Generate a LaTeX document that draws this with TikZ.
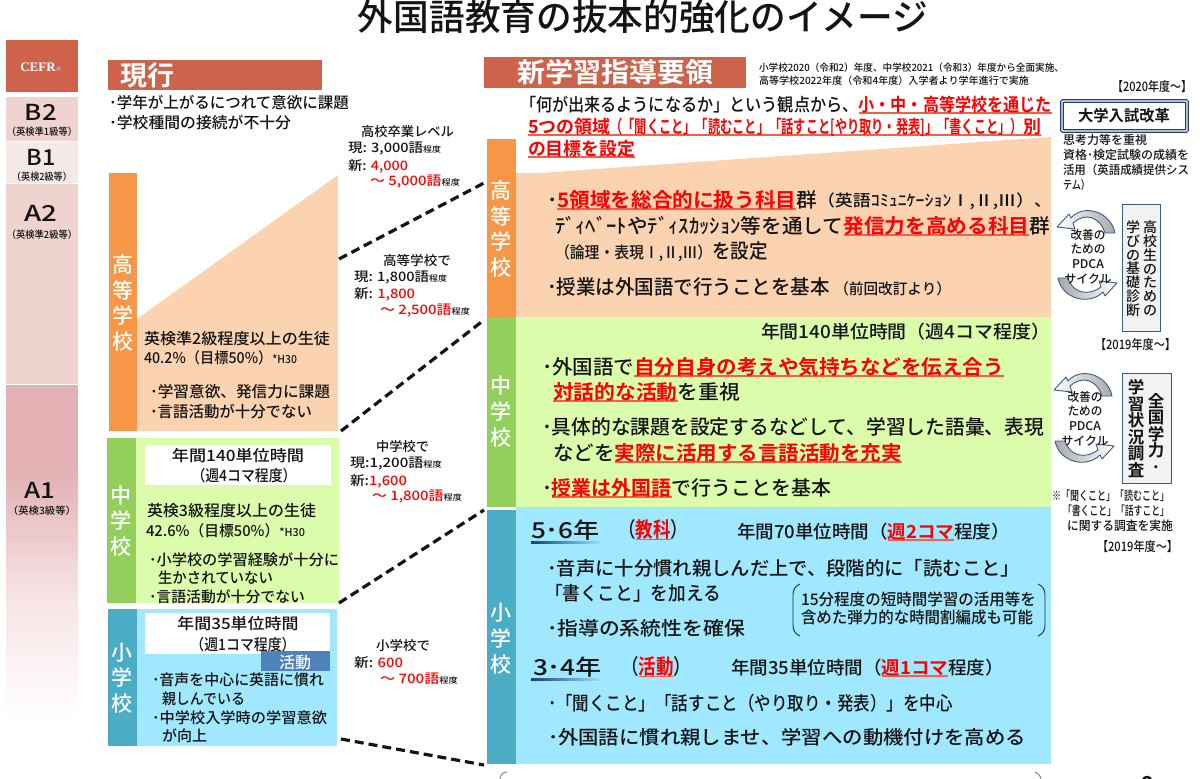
\documentclass[tikz,border=0pt]{standalone}
\usepackage{fontspec}
\usepackage{graphicx}
\setmainfont{Noto Sans CJK JP}[UprightFont={* Medium},BoldFont={* Bold}]
\newfontfamily\serfam{Liberation Serif}
\definecolor{hdr}{HTML}{CE624B}
\definecolor{cefrA}{HTML}{EED3CE}
\definecolor{cefrB}{HTML}{F7E8E8}
\definecolor{cefrC}{HTML}{E3B1B3}
\definecolor{cefrD}{HTML}{F7E4E6}
\definecolor{oraD}{HTML}{F79646}
\definecolor{oraL}{HTML}{FCD3B1}
\definecolor{grnD}{HTML}{92CF5B}
\definecolor{grnL}{HTML}{DBFDAB}
\definecolor{bluD}{HTML}{4BACC6}
\definecolor{bluL}{HTML}{9FE8FF}
\definecolor{katsu}{HTML}{4F81BD}
\definecolor{ink}{HTML}{141414}
\definecolor{ulred}{HTML}{F0604A}
\definecolor{navy}{HTML}{1F3D7A}
\definecolor{edge}{HTML}{385D8A}
\definecolor{pane}{HTML}{F2F2F2}
\definecolor{arcg}{HTML}{A8A8A8}
\newcommand\T[6]{\node[txt] (#1) at (#2,#3) {\resizebox{#4pt}{\height}{\fontsize{#5}{#5}\selectfont #6}};}
\newcommand\TC[6]{\node[txt,anchor=center] (#1) at (#2,#3) {\resizebox{#4pt}{\height}{\fontsize{#5}{#5}\selectfont #6}};}
\newcommand\V[6]{\node[vert,font=\fontsize{#4}{#5}\selectfont] (#1) at (#2,#3) {#6};}
\newcommand\Bx[6]{\path[#6] (#2,#3) rectangle (#4,#5) coordinate (#1);}
\newcommand\ru[1]{\setbox0\hbox{{\bfseries\color{red}#1}}\leavevmode\rlap{{\color{ulred}\rule[-2.6pt]{\wd0}{1.6pt}}}\box0 }
\newcommand\sm[1]{{\fontsize{8}{8}\selectfont #1}}
\newcommand\Arc[2]{%
  \begin{scope}[shift={(#1,#2)}]
    \path[left color=white,right color=arcg,draw=edge,line width=0.9pt,line join=round]
      (58,24) .. controls (54,3) and (27,-6) .. (14,9) -- (12,5) -- (0,18) -- (18,20) -- (16,14)
      .. controls (27,4) and (42,6) .. (48,24) -- cycle;
    \path[left color=arcg,right color=white,draw=edge,line width=0.9pt,line join=round]
      (1,69) .. controls (5,90) and (32,97) .. (46,83) -- (48,87) -- (60,74) -- (42,72) -- (44,78)
      .. controls (32,87) and (16,85) .. (11,69) -- cycle;
  \end{scope}}
\tikzset{
  txt/.style={anchor=west,inner sep=0pt,outer sep=0pt,text=ink},
  vert/.style={anchor=center,inner sep=0pt,outer sep=0pt,align=center,text=ink},
  dashcon/.style={line width=3.2pt,draw=ink,dash pattern=on 9pt off 5pt}
}
\begin{document}
\begin{tikzpicture}[x=1pt,y=-1pt]
\useasboundingbox (0,0) rectangle (1200,779);
\fill[white] (0,0) rectangle (1200,779);
% title
\TC{title}{643}{17}{570}{36}{外国語教育の抜本的強化のイメージ}
% CEFR column
\Bx{c0}{6}{40}{78}{92}{fill=hdr}
\node[txt,anchor=center,text=white] (cefr) at (41,67) {\serfam\bfseries\fontsize{13}{13}\selectfont CEFR{\rmfamily\fontsize{6}{6}\selectfont ※}};
\Bx{c1}{6}{97}{78}{141}{fill=cefrA}
\Bx{c2}{6}{142}{78}{183}{fill=cefrB}
\Bx{c3}{6}{184}{78}{384}{fill=cefrA}
\Bx{c4}{6}{385}{78}{471}{fill=cefrC}
\shade[top color=cefrC,bottom color=cefrD] (6,470) rectangle (78,600);
\shade[top color=cefrD,bottom color=white] (6,599) rectangle (78,720);
\TC{b2}{41}{112}{32}{22}{B2}
\TC{b2s}{42}{132}{70}{10}{（英検準1級等）}
\TC{b1}{41}{157}{29}{22}{B1}
\TC{b1s}{42}{177}{60}{10}{（英検2級等）}
\TC{a2}{41}{213}{33}{22}{A2}
\TC{a2s}{42}{235}{70}{10}{（英検準2級等）}
\TC{a1}{40}{490}{31}{22}{A1}
\TC{a1s}{42}{511}{68}{10}{（英検3級等）}
% current header
\Bx{h1}{108}{60}{322}{90}{fill=hdr}
\node[txt,text=white] (h1t) at (120,75) {\bfseries\fontsize{27}{27}\selectfont 現行};
\T{l1}{109}{103}{240}{15.5}{･学年が上がるにつれて意欲に課題}
\T{l2}{109}{123}{182}{15.5}{･学校種間の接続が不十分}
% left high school
\Bx{lh}{109}{173}{137}{431}{fill=oraD}
\path[fill=oraL] (137,319) -- (338,175) -- (338,431) -- (137,431) -- cycle;
\V{lhv}{123}{303}{21}{25.5}{\color{white}高\\\color{white}等\\\color{white}学\\\color{white}校}
\coordinate (lhtop) at (339,259);
\coordinate (lhbot) at (341,431);
\T{l3}{144}{339}{186}{15.5}{英検準2級程度以上の生徒}
\T{l4}{144}{358}{153}{15}{40.2\%（目標50\%）{\fontsize{11}{11}\selectfont *H30}}
\T{l5}{150}{392}{180}{15.5}{･学習意欲、発信力に課題}
\T{l6}{150}{412}{162}{15.5}{･言語活動が十分でない}
% left middle school
\Bx{lm}{107}{438}{136}{603}{fill=grnD}
\Bx{lml}{136}{438}{339}{603}{fill=grnL}
\Bx{lmw}{145}{445}{331}{485}{fill=white}
\V{lmv}{121}{521}{21}{25.5}{\color{white}中\\\color{white}学\\\color{white}校}
\coordinate (lmbot) at (339,603);
\TC{m1}{238}{456}{132}{15.5}{年間140単位時間}
\TC{m2}{244}{476}{105}{15.5}{（週4コマ程度）}
\T{m3}{147}{511}{169}{15.5}{英検3級程度以上の生徒}
\T{m4}{146}{531}{159}{15}{42.6\%（目標50\%）{\fontsize{11}{11}\selectfont *H30}}
\T{m5}{149}{560}{190}{15}{･小学校の学習経験が十分に}
\T{m6}{158}{578}{115}{15}{生かされていない}
\T{m7}{149}{597}{156}{15}{･言語活動が十分でない}
% left elementary
\Bx{le}{108}{609}{137}{746}{fill=bluD}
\Bx{lel}{137}{609}{337}{746}{fill=bluL}
\Bx{lew}{145}{613}{330}{654}{fill=white}
\V{lev}{122}{678}{21}{25.5}{\color{white}小\\\color{white}学\\\color{white}校}
\coordinate (lebot) at (341,739);
\TC{e1}{238}{624}{121}{15.5}{年間35単位時間}
\TC{e2}{243}{645}{105}{15.5}{（週1コマ程度）}
\Bx{ek}{261}{651}{330}{671}{fill=katsu}
\node[txt,anchor=center,text=white] (ekt) at (295,662) {\fontsize{16}{16}\selectfont 活動};
\T{e3}{152}{680}{172}{15}{･音声を中心に英語に慣れ}
\T{e4}{162}{699}{83}{15}{親しんでいる}
\T{e5}{152}{718}{175}{15}{･中学校入学時の学習意欲}
\T{e6}{162}{736}{45}{15}{が向上}
% word counts
\T{w1}{361}{132}{93}{13}{高校卒業レベル}
\T{w2}{348}{149}{93}{13}{現: 3,000語\sm{程度}}
\T{w3}{348}{166}{60}{13}{新: {\color{red}4,000}}
\T{w4}{370}{182}{90}{13}{{\color{red}～ 5,000語}\sm{程度}}
\T{w5}{383}{261}{68}{13}{高等学校で}
\T{w6}{354}{278}{93}{13}{現: 1,800語\sm{程度}}
\T{w7}{354}{294}{61}{13}{新: {\color{red}1,800}}
\T{w8}{380}{311}{90}{13}{{\color{red}～ 2,500語}\sm{程度}}
\T{w9}{376}{447}{53}{13}{中学校で}
\T{w10}{350}{464}{92}{13}{現:1,200語\sm{程度}}
\T{w11}{350}{481}{57}{13}{新:{\color{red}1,600}}
\T{w12}{372}{497}{90}{13}{{\color{red}～ 1,800語}\sm{程度}}
\T{w13}{376}{646}{54}{13}{小学校で}
\T{w14}{354}{663}{49}{13}{新: {\color{red}600}}
\T{w15}{380}{679}{78}{13}{{\color{red}～ 700語}\sm{程度}}
% right header
\Bx{h2}{484}{57}{746}{88}{fill=hdr}
\node[txt,text=white] (h2t) at (517,72) {\resizebox{196pt}{\height}{\bfseries\fontsize{27}{27}\selectfont 新学習指導要領}};
\T{n1}{759}{68}{305}{10}{小学校2020（令和2）年度、中学校2021（令和3）年度から全面実施、}
\T{n2}{759}{81}{270}{10}{高等学校2022年度（令和4年度）入学者より学年進行で実施}
\T{i1}{520}{105}{532}{18}{「何が出来るようになるか」という観点から、\ru{小・中・高等学校を通じた}}
\T{i2}{528}{127}{513}{18}{\ru{5つの領域\resizebox{414pt}{\height}{（「聞くこと」「読むこと」「話すこと[やり取り・発表]」「書くこと」）}別}}
\T{i3}{528}{149}{107}{18}{\ru{の目標を設定}}
% right high school
\Bx{rh}{487}{139}{516}{317}{fill=oraD}
\path[fill=oraL] (516,173) -- (540,173) -- (1051,137) -- (1051,317) -- (516,317) -- cycle;
\coordinate (rhdash) at (484,183);
\V{rhv}{501}{229}{21}{25.7}{\color{white}高\\\color{white}等\\\color{white}学\\\color{white}校}
\T{r1}{547}{200}{270}{20}{･\ru{5領域を総合的に扱う科目}群}
\T{r1b}{817}{201}{235}{16}{（英語ｺﾐｭﾆｹｰｼｮﾝⅠ,Ⅱ,Ⅲ）、}
\T{r2}{555}{226}{495}{20}{ﾃﾞｨﾍﾞｰﾄやﾃﾞｨｽｶｯｼｮﾝ等を通して\ru{発信力を高める科目}群}
\T{r3}{555}{252}{213}{20}{{\fontsize{16}{16}\selectfont （論理・表現Ⅰ,Ⅱ,Ⅲ）}を設定}
\T{r4}{547}{287}{404}{20}{･授業は外国語で行うことを基本 {\fontsize{15}{15}\selectfont （前回改訂より）}}
% right middle school
\Bx{rm}{487}{317}{516}{507}{fill=grnD}
\Bx{rml}{516}{317}{1051}{507}{fill=grnL}
\coordinate (rmdash) at (484,320);
\V{rmv}{501}{412}{21}{26}{\color{white}中\\\color{white}学\\\color{white}校}
\T{s1}{761}{332}{289}{18}{年間140単位時間（週4コマ程度）}
\T{s2}{542}{367}{462}{20}{･外国語で\ru{自分自身の考えや気持ちなどを伝え合う}}
\T{s3}{553}{392}{187}{20}{\ru{対話的な活動}を重視}
\T{s4}{542}{427}{502}{20}{･具体的な課題を設定するなどして、学習した語彙、表現}
\T{s5}{553}{453}{349}{20}{などを\ru{実際に活用する言語活動を充実}}
\T{s6}{542}{488}{289}{20}{･\ru{授業は外国語}で行うことを基本}
% right elementary
\Bx{re}{487}{510}{516}{764}{fill=bluD}
\Bx{rel}{516}{507}{1051}{764}{fill=bluL}
\coordinate (redash) at (484,510);
\coordinate (re2dash) at (484,765);
\V{rev}{501}{639}{21}{26}{\color{white}小\\\color{white}学\\\color{white}校}
\T{t1}{531}{530}{69}{22}{5･6年}
\shade[left color=navy,right color=bluL] (531,541) rectangle (603,543);
\T{t2}{618}{530}{70}{21}{（\ru{教科}）}
\T{t3}{737}{532}{273}{18}{年間70単位時間（\ru{週2コマ}程度）}
\T{t4}{547}{568}{473}{19}{･音声に十分慣れ親しんだ上で、段階的に「読むこと」}
\T{t5}{545}{593}{176}{19}{「書くこと」を加える}
\T{t6}{547}{628}{198}{19}{･指導の系統性を確保}
\draw[edge!50!black,line width=0.9pt] (800,584) .. controls (795,586) and (793,590) .. (793,595) -- (793,625) .. controls (793,630) and (795,634) .. (800,636);
\draw[edge!50!black,line width=0.9pt] (1038,584) .. controls (1043,586) and (1045,590) .. (1045,595) -- (1045,625) .. controls (1045,630) and (1043,634) .. (1038,636);
\T{t7}{801}{599}{235}{16}{15分程度の短時間学習の活用等を}
\T{t8}{801}{617}{232}{16}{含めた弾力的な時間割編成も可能}
\T{t9}{533}{667}{69}{22}{3･4年}
\shade[left color=navy,right color=bluL] (531,678) rectangle (603,680);
\T{t10}{621}{667}{70}{21}{（\ru{活動}）}
\T{t11}{731}{668}{273}{18}{年間35単位時間（\ru{週1コマ}程度）}
\T{t12}{548}{703}{405}{19}{･「聞くこと」「話すこと（やり取り・発表）」を中心}
\T{t13}{548}{737}{478}{19}{･外国語に慣れ親しませ、学習への動機付けを高める}
% dashed connectors
\draw[dashcon] (lhtop) -- (rhdash);
\draw[dashcon] (lhbot) -- (rmdash);
\draw[dashcon] (lmbot) -- (redash);
\draw[dashcon] (lebot) -- (re2dash);
% cut fragments at the lower edge
\draw[gray,line width=0.9pt] (500,779) .. controls (500,775) and (503,772) .. (507,772);
\draw[gray,line width=0.9pt] (1035,772) .. controls (1038,773) and (1040,775) .. (1041,779);
\draw[ink,line width=2.4pt] (1143,780) .. controls (1144,776) and (1150,776) .. (1151,780);
% side column
\T{y1}{1112}{87}{80}{13}{【2020年度～】}
\node[draw=navy,line width=1.1pt,double=white,double distance=1.4pt,rounded corners=1pt,fill=white,minimum width=125pt,minimum height=30pt,inner sep=0pt] (ent) at (1124.5,116) {};
\TC{entt}{1124}{116}{92}{15.5}{\bfseries 大学入試改革}
\T{x1}{1063}{140}{84}{12}{思考力等を重視}
\T{x2}{1063}{155}{126}{12}{資格･検定試験の成績を}
\T{x3}{1063}{170}{126}{12}{活用（英語成績提供シス}
\T{x4}{1063}{185}{27}{12}{テム）}
\Arc{1057}{209}
\TC{p1}{1088}{235}{35}{12}{改善の}
\TC{p2}{1088}{249}{35}{12}{ための}
\TC{p3}{1088}{264}{32}{12}{PDCA}
\TC{p4}{1088}{279}{47}{12}{サイクル}
\Bx{bx1}{1122}{204}{1160}{331}{fill=pane,draw=edge,line width=1pt}
\V{v1}{1150}{268.5}{14}{13.8}{高\\校\\生\\の\\た\\め\\の}
\V{v2}{1133}{268.5}{14}{13.8}{学\\び\\の\\基\\礎\\診\\断}
\T{y2}{1095}{345}{81}{13}{【2019年度～】}
\Arc{1054}{372}
\TC{q1}{1085}{397}{35}{12}{改善の}
\TC{q2}{1085}{411}{35}{12}{ための}
\TC{q3}{1085}{426}{32}{12}{PDCA}
\TC{q4}{1085}{441}{47}{12}{サイクル}
\Bx{bx2}{1122}{373}{1171}{483}{fill=pane,draw=edge,line width=1pt}
\V{v3}{1156}{433}{16.5}{16.5}{\bfseries 全\\\bfseries 国\\\bfseries 学\\\bfseries 力\\\bfseries ･}
\V{v4}{1136}{428.5}{16.5}{16.6}{\bfseries 学\\\bfseries 習\\\bfseries 状\\\bfseries 況\\\bfseries 調\\\bfseries 査}
\T{z1}{1052}{496}{117}{12.5}{※「聞くこと」「読むこと」}
\T{z2}{1063}{511}{106}{12.5}{「書くこと」「話すこと」}
\T{z3}{1067}{526}{106}{12.5}{に関する調査を実施}
\T{y3}{1097}{547}{81}{13}{【2019年度～】}
\end{tikzpicture}
\end{document}
